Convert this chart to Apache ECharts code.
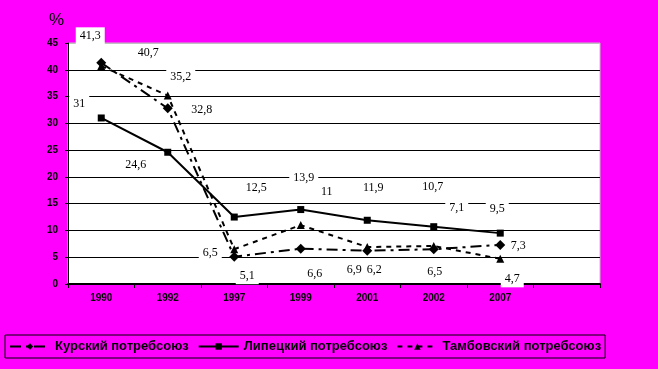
<!DOCTYPE html>
<html>
<head>
<meta charset="utf-8">
<script src="https://cdn.jsdelivr.net/npm/echarts@6/dist/echarts.min.js"></script>
<style>
html,body{margin:0;padding:0;background:#ff00ff;}
#c{width:658px;height:369px;}
</style>
</head>
<body>
<div id="c"></div>
<script>
// ---- data ----
const years = ['1990', '1992', '1997', '1999', '2001', '2002', '2007', ''];
const seriesNames = ['Курский потребсоюз', 'Липецкий потребсоюз', 'Тамбовский потребсоюз'];
const kursk = [41.3, 32.8, 5.1, 6.6, 6.2, 6.5, 7.3];
const lipetsk = [31, 24.6, 12.5, 13.9, 11.9, 10.7, 9.5];
const tambov = [40.7, 35.2, 6.5, 11, 6.9, 7.1, 4.7];
const yTicks = [0, 5, 10, 15, 20, 25, 30, 35, 40, 45];

// ---- label offsets (style, px) ----
const kurskOff = [[-11, -27], [34, 2], [13, 19], [14, 25], [7, 19], [1, 23], [18, 1]];
const lipetskOff = [[-22, -14], [-32, 13], [22, -29], [3, -32], [6, -32], [-1, -40], [-3, -24]];
const tambovOff = [[47, -13], [13, -19], [-24, 4], [26, -33], [-13, 23], [23, -38], [12, 20]];

function fmt(v) { return String(v).replace('.', ','); }

function build(values, offs) {
  return values.map((v, i) => ({
    value: v,
    label: { offset: offs[i] }
  }));
}

const labelBase = {
  show: true,
  position: 'inside',
  formatter: p => fmt(p.value),
  fontFamily: 'Liberation Serif, Times New Roman, serif',
  fontSize: 12,
  color: '#000',
  backgroundColor: '#fff',
  padding: [3, 4, 2, 4],
  align: 'center',
  verticalAlign: 'middle'
};

const chart = echarts.init(document.getElementById('c'));
const splitColors = yTicks.map((t, i) => i === yTicks.length - 1 ? '#c0c0c0' : '#000');

chart.setOption({
  backgroundColor: '#ff00ff',
  animation: false,
  title: {
    text: '%', left: 44, top: 7,
    textStyle: { fontFamily: 'Liberation Sans, Arial, sans-serif', fontSize: 17, fontWeight: 'normal', color: '#000' }
  },
  grid: {
    left: 68, right: 58, top: 43, bottom: 85,
    show: true, backgroundColor: '#fff', borderColor: '#c0c0c0', borderWidth: 1
  },
  legend: {
    left: 5, top: 335, width: 610,
    padding: [5, 4, 5, 4],
    borderColor: '#000', borderWidth: 1,
    itemWidth: 40, itemHeight: 8, itemGap: 9,
    textStyle: { fontFamily: 'Liberation Sans, Arial, sans-serif', fontSize: 13, fontWeight: 'bold', color: '#000' },
    data: seriesNames
  },
  xAxis: {
    type: 'category', data: years, boundaryGap: true,
    axisLine: { lineStyle: { color: '#000', width: 2 } },
    axisTick: { show: true, interval: 0, length: 4, lineStyle: { color: '#000' } },
    axisLabel: { interval: 0, margin: 9, fontFamily: 'Liberation Sans, Arial, sans-serif', fontSize: 10, fontWeight: 'bold', color: '#000' },
    splitLine: { show: false }
  },
  yAxis: {
    type: 'value', min: 0, max: 45, interval: 5,
    axisLine: { show: true, lineStyle: { color: '#000', width: 1 } },
    axisTick: { show: true, length: 3, lineStyle: { color: '#000' } },
    axisLabel: { margin: 10, fontFamily: 'Liberation Sans, Arial, sans-serif', fontSize: 10, fontWeight: 'bold', color: '#000' },
    splitLine: { show: true, lineStyle: { color: splitColors, width: 1 } }
  },
  series: [
    {
      name: seriesNames[0], type: 'line', data: build(kursk, kurskOff),
      symbol: 'diamond', symbolSize: 10,
      itemStyle: { color: '#000' },
      lineStyle: { color: '#000', width: 2, type: [11, 5, 3, 5] },
      label: labelBase, z: 3
    },
    {
      name: seriesNames[1], type: 'line', data: build(lipetsk, lipetskOff),
      symbol: 'rect', symbolSize: 7,
      itemStyle: { color: '#000' },
      lineStyle: { color: '#000', width: 2, type: 'solid' },
      label: labelBase, z: 3
    },
    {
      name: seriesNames[2], type: 'line', data: build(tambov, tambovOff),
      symbol: 'triangle', symbolSize: 8,
      itemStyle: { color: '#000' },
      lineStyle: { color: '#000', width: 2, type: [5, 5] },
      label: labelBase, z: 3
    }
  ]
});
</script>
</body>
</html>
